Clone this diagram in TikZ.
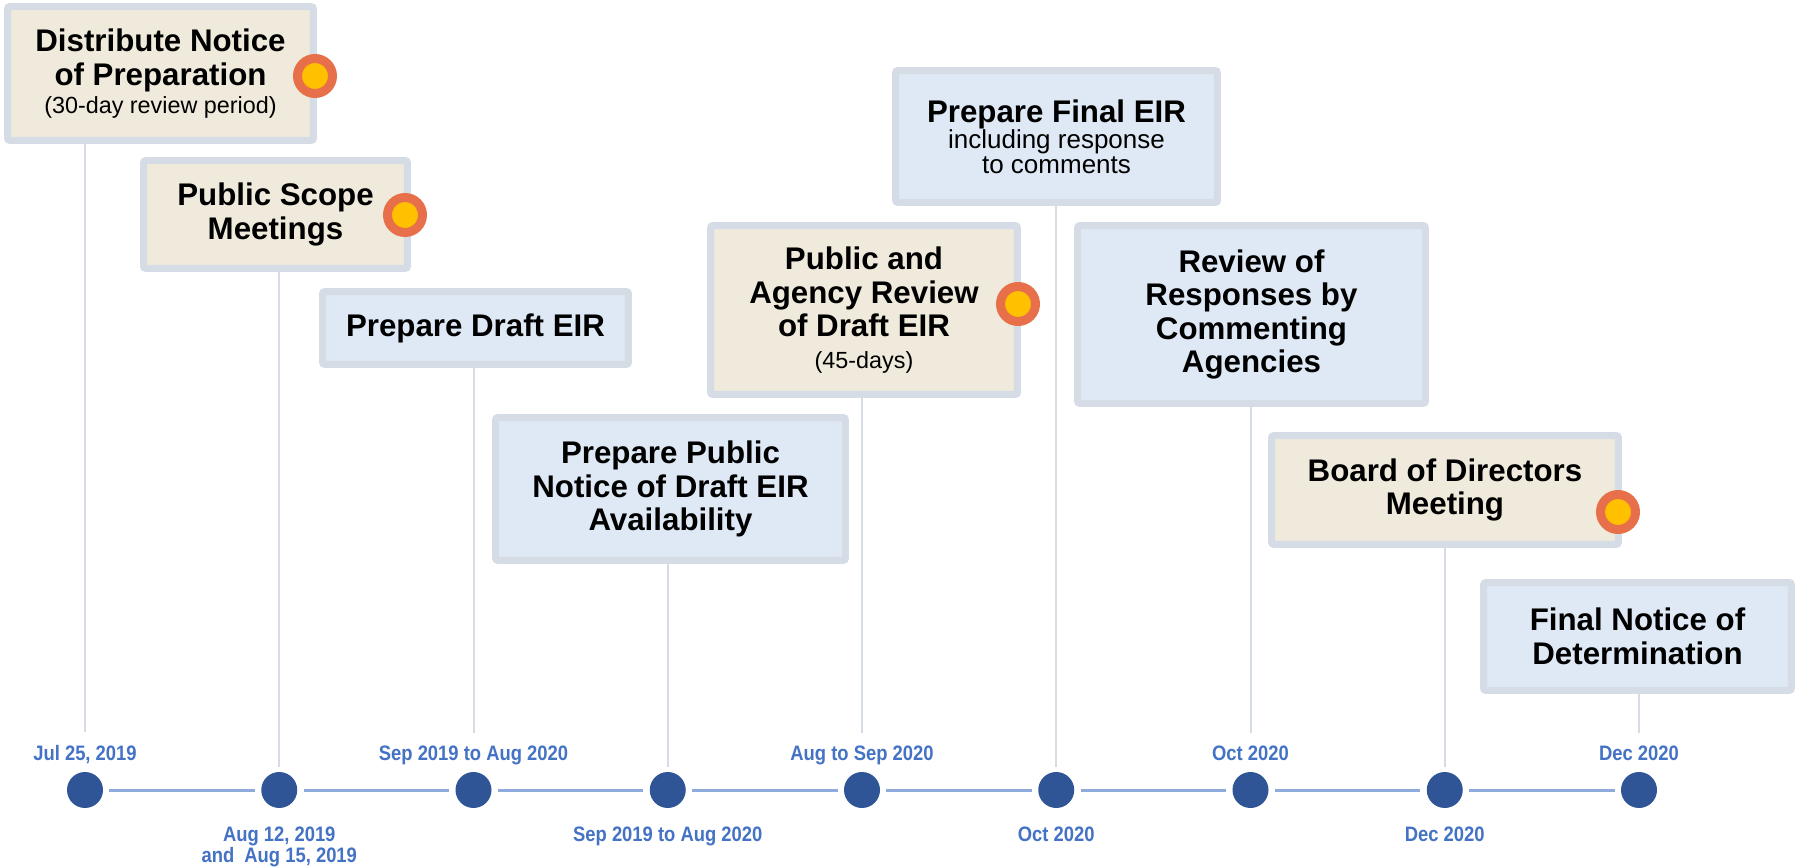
\documentclass[tikz,border=0pt]{standalone}
\usepackage{fontspec}
\setmainfont{Liberation Sans}
\newfontfamily\narrowsans[FakeStretch=0.88]{Liberation Sans}

\definecolor{edgec}{HTML}{D6DCE5}
\definecolor{tanfill}{HTML}{EFEADB}
\definecolor{skyfill}{HTML}{DEE9F5}
\definecolor{dotc}{HTML}{2F5597}
\definecolor{linec}{HTML}{8FAADC}
\definecolor{datec}{HTML}{4472C4}
\definecolor{ringc}{HTML}{E7704A}
\definecolor{yolk}{HTML}{FFC000}

\newcommand\titlefont{\fontsize{17.8}{19}\selectfont\bfseries}
\newcommand\notefont{\fontsize{13.3}{15}\selectfont\mdseries}
\newcommand\subfont{\fontsize{14.8}{15}\selectfont\mdseries}
\newcommand\datefont{\narrowsans\fontsize{11.9}{11.9}\selectfont\bfseries}

\tikzset{
  task/.style 2 args={draw=edgec, line width=0.14cm, rounded corners=0.05cm,
    minimum width=#1cm, minimum height=#2cm, inner sep=0pt,
    align=center, font=\titlefont},
  tan/.style={fill=tanfill},
  sky/.style={fill=skyfill},
  tdot/.style={circle, fill=dotc, minimum size=0.72cm, inner sep=0pt},
  flag/.style={circle, draw=ringc, fill=yolk, line width=0.18cm,
    minimum size=0.7cm, inner sep=0pt},
  datelbl/.style={text=datec, font=\datefont, align=center, inner sep=2pt},
  tline/.style={draw=linec, line width=0.06cm, shorten <=0.12cm, shorten >=0.12cm},
  stem/.style={draw=edgec, line width=0.04cm}
}

\begin{document}
\begin{tikzpicture}[x=0.02cm, y=-0.02cm]
	\fill[white] (0,0) rectangle (1796,868);
	\useasboundingbox (0,0) rectangle (1796,868);

	% timeline
	\foreach \i in {1,...,9}
		\node[tdot] (d\i) at ({85+194.25*(\i-1)},790) {};
	\foreach \i [count=\j from 2] in {1,...,8}
		\draw[tline] (d\i) -- (d\j);

	% dates
	\node[datelbl, anchor=base] (l1) at (d1 |- 0,760) {Jul 25, 2019};
	\node[datelbl, anchor=north, yshift=-0.29cm] (l2) at (d2.south) {Aug 12, 2019\\and~ Aug 15, 2019};
	\node[datelbl, anchor=base] (l3) at (d3 |- 0,760) {Sep 2019 to Aug 2020};
	\node[datelbl, anchor=north, yshift=-0.29cm] (l4) at (d4.south) {Sep 2019 to Aug 2020};
	\node[datelbl, anchor=base] (l5) at (d5 |- 0,760) {Aug to Sep 2020};
	\node[datelbl, anchor=north, yshift=-0.29cm] (l6) at (d6.south) {Oct 2020};
	\node[datelbl, anchor=base] (l7) at (d7 |- 0,760) {Oct 2020};
	\node[datelbl, anchor=north, yshift=-0.29cm] (l8) at (d8.south) {Dec 2020};
	\node[datelbl, anchor=base] (l9) at (d9 |- 0,760) {Dec 2020};

	% milestones
	\node[task={6.12}{2.68}, tan] (t1) at (160.5,73.5) {Distribute Notice\\of Preparation\\[-3.1pt]{\notefont (30-day review period)}};
	\node[task={5.28}{2.16}, tan] (t2) at (275.5,214.5) {Public Scope\\Meetings};
	\node[task={6.12}{1.46}, sky] (t3) at (475.5,328) {Prepare Draft EIR};
	\node[task={7.00}{2.86}, sky] (t4) at (670.5,489) {Prepare Public\\Notice of Draft EIR\\Availability};
	\node[task={6.14}{3.38}, tan] (t5) at (864,310) {Public and\\Agency Review\\of Draft EIR\\[-0.9pt]{\notefont (45-days)}};
	\node[task={6.44}{2.64}, sky] (t6) at (1056.5,136.5) {Prepare Final EIR\\[-4.3pt]{\subfont including response}\\[-4.8pt]{\subfont to comments}};
	\node[task={6.96}{3.56}, sky] (t7) at (1251.5,314.5) {Review of\\Responses by\\Commenting\\Agencies};
	\node[task={6.94}{2.18}, tan] (t8) at (1445,490) {Board of Directors\\Meeting};
	\node[task={6.16}{2.16}, sky] (t9) at (1637.5,636.5) {Final Notice of\\Determination};

	% stems
	\draw[stem, shorten >=0.18cm] (d1 |- t1.south) -- (l1.north);
	\draw[stem, shorten >=0.1cm] (d2 |- t2.south) -- (d2.north);
	\draw[stem, shorten >=0.18cm] (d3 |- t3.south) -- (l3.north);
	\draw[stem, shorten >=0.1cm] (d4 |- t4.south) -- (d4.north);
	\draw[stem, shorten >=0.18cm] (d5 |- t5.south) -- (l5.north);
	\draw[stem, shorten >=0.1cm] (d6 |- t6.south) -- (d6.north);
	\draw[stem, shorten >=0.18cm] (d7 |- t7.south) -- (l7.north);
	\draw[stem, shorten >=0.1cm] (d8 |- t8.south) -- (d8.north);
	\draw[stem, shorten >=0.18cm] (d9 |- t9.south) -- (l9.north);

	% public meeting flags
	\node[flag] (f1) at (315,76) {};
	\node[flag] (f2) at (405,215) {};
	\node[flag] (f5) at (1018,304) {};
	\node[flag] (f8) at (1618,512) {};
\end{tikzpicture}
\end{document}
